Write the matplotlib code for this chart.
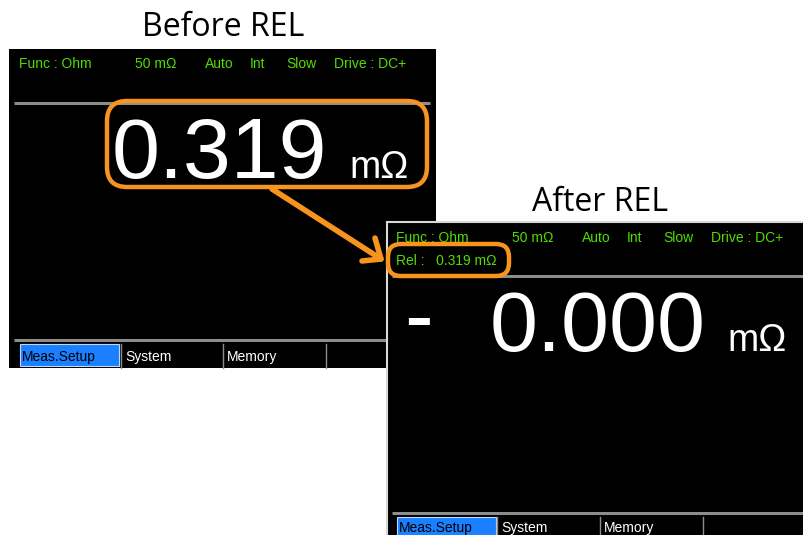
import matplotlib
matplotlib.use("Agg")
import matplotlib.pyplot as plt
from matplotlib.patches import Rectangle, FancyBboxPatch

# ===================== Screen contents =====================
titles = ["Before REL", "After REL"]
header_items = ["Func : Ohm", "50 mΩ", "Auto", "Int", "Slow", "Drive : DC+"]
header_x = [0, 116, 186, 231, 267, 315]     # offsets from screen left edge
readings = ["0.319", "0.000"]
unit = "mΩ"
rel_text = "Rel :   0.319 mΩ"
tabs = ["Meas.Setup", "System", "Memory"]

GREEN = "#52dc00"
ORANGE = "#f7941d"
BLUE = "#1a80ff"
GRAY = "#8c8c8c"
DIGIT_FONT = "Liberation Sans"

fig = plt.figure(figsize=(8.04, 5.35), dpi=100, facecolor="white")
ax = fig.add_axes([0, 0, 1, 1])
ax.set_xlim(0, 804)
ax.set_ylim(535, 0)
ax.axis("off")


def screen(x0, y0, x1, y1, line_y, tab_y, tab_x, seps, z, border=False):
    ax.add_patch(Rectangle((x0, y0), x1 - x0, y1 - y0, facecolor="black",
                           edgecolor="#d8d8d8" if border else "none",
                           lw=1.5 if border else 0, zorder=z))
    # grey separator lines
    ax.plot([x0 + 5, x1 - 6], [line_y, line_y], color=GRAY, lw=2.2,
            solid_capstyle="butt", zorder=z + 1)
    ax.plot([x0 + 5, x1], [tab_y - 4, tab_y - 4], color=GRAY, lw=2.2,
            solid_capstyle="butt", zorder=z + 1)
    # tab bar
    ax.add_patch(Rectangle((tab_x, tab_y), 99, y1 - tab_y - 2, facecolor=BLUE,
                           edgecolor="#bcd8ff", lw=0.8, zorder=z + 1))
    for s in seps:
        ax.plot([s, s], [tab_y, y1], color=GRAY, lw=1, zorder=z + 1)
    base = min(tab_y + 17, 532)
    ax.text(tab_x + 2, base, tabs[0], color="black", fontsize=10,
            family=DIGIT_FONT, va="baseline", zorder=z + 2)
    for s, t in zip(seps[:2], tabs[1:]):
        ax.text(s + 4, base, t, color="white", fontsize=10,
                family=DIGIT_FONT, va="baseline", zorder=z + 2)


def header(x0, base_y, z):
    for dx, t in zip(header_x, header_items):
        ax.text(x0 + dx, base_y, t, color=GREEN, fontsize=10, family=DIGIT_FONT,
                va="baseline", zorder=z)


# >>>>> Left screen (before)
screen(9, 49, 436, 368, 103, 344, 20, [121, 223, 326], z=1)
header(19, 68, 3)
ax.text(112, 178, readings[0], color="white", fontsize=62, family=DIGIT_FONT,
        va="baseline", zorder=3)
ax.text(349, 178, unit, color="white", fontsize=27, family=DIGIT_FONT,
        va="baseline", zorder=3)
ax.add_patch(FancyBboxPatch((107, 101), 320, 86, boxstyle="round,pad=0,rounding_size=20",
                            facecolor="none", edgecolor=ORANGE, lw=3.2, zorder=4))

# >>>>> Right screen (after)
screen(387, 222, 812, 537, 276, 517, 397, [497, 600, 703], z=10, border=True)
header(396, 242, 12)
ax.text(396, 265, rel_text, color=GREEN, fontsize=10, family=DIGIT_FONT,
        va="baseline", zorder=12)
ax.add_patch(FancyBboxPatch((388, 244), 121, 32, boxstyle="round,pad=0,rounding_size=13",
                            facecolor="none", edgecolor=ORANGE, lw=3.2, zorder=13))
ax.text(404, 344, "-", color="white", fontsize=62, family=DIGIT_FONT,
        va="baseline", zorder=12)
ax.text(490, 351, readings[1], color="white", fontsize=62, family=DIGIT_FONT,
        va="baseline", zorder=12)
ax.text(727, 351, unit, color="white", fontsize=27, family=DIGIT_FONT,
        va="baseline", zorder=12)

# >>>>> Arrow
ax.plot([272, 381], [189, 259], color=ORANGE, lw=4, solid_capstyle="round", zorder=20)
ax.plot([375, 381, 362], [238, 259, 261], color=ORANGE, lw=4,
        solid_capstyle="round", solid_joinstyle="round", zorder=20)

# >>>>> Titles
ax.text(223, 36, titles[0], color="black", fontsize=23, family="Open Sans",
        ha="center", va="baseline")
ax.text(600, 211, titles[1], color="black", fontsize=23, family="Open Sans",
        ha="center", va="baseline")

fig.savefig("out.png", dpi=100, facecolor="white")
